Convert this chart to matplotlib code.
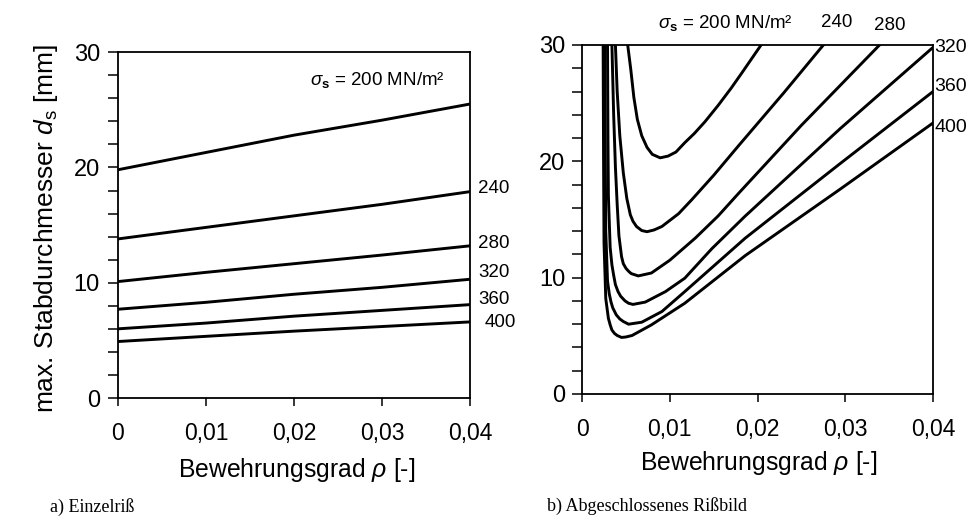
import matplotlib
matplotlib.use("Agg")
import matplotlib.pyplot as plt
from matplotlib.ticker import MultipleLocator

plt.rcParams['font.family'] = ['Liberation Sans', 'DejaVu Sans']
plt.rcParams['mathtext.fontset'] = 'custom'
plt.rcParams['mathtext.rm'] = 'Liberation Sans'
plt.rcParams['mathtext.it'] = 'Liberation Sans:italic'
plt.rcParams['mathtext.bf'] = 'Liberation Sans:bold'

### data
stress_labels = ["240", "280", "320", "360", "400"]
x_ticks = [0, 0.01, 0.02, 0.03, 0.04]
x_ticklabels = ["0", "0,01", "0,02", "0,03", "0,04"]
y_ticks = [0, 10, 20, 30]

# a) Einzelriss
rho_a = [0, 0.01, 0.02, 0.03, 0.04]
ds_a_200 = [19.8, 21.3, 22.8, 24.1, 25.5]
ds_a_240 = [13.8, 14.8, 15.8, 16.8, 17.9]
ds_a_280 = [10.1, 10.9, 11.65, 12.4, 13.2]
ds_a_320 = [7.7, 8.3, 9.0, 9.6, 10.3]
ds_a_360 = [6.0, 6.5, 7.1, 7.6, 8.1]
ds_a_400 = [4.9, 5.35, 5.8, 6.2, 6.6]

# b) abgeschlossenes Rissbild
rho_b_200 = [0.0052, 0.00555, 0.0059, 0.0063, 0.0068, 0.0074, 0.0080, 0.0089, 0.0098,
             0.0107, 0.0117, 0.0128, 0.0140, 0.0155, 0.0170, 0.0183, 0.0204]
ds_b_200 = [30.0, 27.9, 25.5, 23.6, 22.2, 21.2, 20.6, 20.3, 20.45,
            20.8, 21.6, 22.4, 23.4, 24.8, 26.3, 27.7, 30.0]
rho_b_240 = [0.0038, 0.0040, 0.0043, 0.0047, 0.0051, 0.0055, 0.0058, 0.0062, 0.0068, 0.0074,
             0.0082, 0.0091, 0.0110, 0.0125, 0.0150, 0.0179, 0.0230, 0.0275]
ds_b_240 = [30.0, 26.0, 22.2, 19.0, 16.8, 15.4, 14.85, 14.4, 14.05, 13.95,
            14.1, 14.4, 15.5, 16.7, 18.8, 21.4, 25.9, 30.0]
rho_b_280 = [0.0034, 0.0036, 0.0038, 0.0040, 0.0042, 0.0045, 0.0047, 0.0050, 0.0053, 0.0056,
             0.0064, 0.0079, 0.0100, 0.0129, 0.0155, 0.0179, 0.0250, 0.0339]
ds_b_280 = [30.0, 24.0, 19.5, 16.3, 13.6, 11.8, 11.2, 10.8, 10.55, 10.35,
            10.15, 10.4, 11.5, 13.4, 15.3, 17.3, 23.1, 30.0]
rho_b_320 = [0.0029, 0.00295, 0.0030, 0.0032, 0.0034, 0.0036, 0.0038, 0.0041, 0.0044, 0.0049,
             0.0053, 0.0058, 0.0072, 0.0095, 0.0117, 0.0148, 0.0186, 0.0294, 0.0400]
ds_b_320 = [30.0, 22.0, 17.0, 12.6, 11.1, 10.2, 9.4, 8.8, 8.4, 8.0,
            7.8, 7.7, 7.9, 8.8, 9.95, 12.5, 15.3, 22.8, 29.8]
rho_b_360 = [0.0026, 0.00265, 0.0027, 0.0029, 0.0031, 0.0033, 0.0035, 0.0039, 0.0043, 0.0047,
             0.0053, 0.0068, 0.0091, 0.0117, 0.0186, 0.0294, 0.0400]
ds_b_360 = [30.0, 20.0, 14.0, 9.7, 8.6, 7.9, 7.4, 6.8, 6.45, 6.23,
            6.0, 6.17, 7.09, 8.8, 13.4, 19.8, 26.0]
rho_b_400 = [0.0024, 0.00245, 0.0025, 0.0027, 0.0030, 0.0032, 0.0034, 0.0037, 0.0040, 0.0045,
             0.0050, 0.0057, 0.0079, 0.0117, 0.0186, 0.0294, 0.0400]
ds_b_400 = [30.0, 20.0, 13.0, 8.2, 6.5, 5.95, 5.5, 5.2, 5.03, 4.86,
            4.9, 5.03, 5.94, 7.8, 11.9, 17.6, 23.3]


def style_axes(ax, xpad, ypad):
    ax.set_xlim(0, 0.04)
    ax.set_ylim(0, 30)
    ax.set_xticks(x_ticks)
    ax.set_xticklabels(x_ticklabels)
    ax.set_yticks(y_ticks)
    ax.yaxis.set_minor_locator(MultipleLocator(2))
    ax.tick_params(axis='x', direction='out', length=6, width=1.1, pad=xpad, labelsize=16.5)
    ax.tick_params(axis='y', which='both', direction='out', length=7, width=1.1, pad=ypad, labelsize=17)
    for s in ax.spines.values():
        s.set_linewidth(1.3)
    ax.set_xlabel(r"Bewehrungsgrad $\rho$ [-]", fontsize=17.8)


fig = plt.figure(figsize=(9.75, 5.28), dpi=100)

### left panel
ax1 = fig.add_axes([0.121, 0.2462, 0.361, 0.655])
for ds in [ds_a_200, ds_a_240, ds_a_280, ds_a_320, ds_a_360, ds_a_400]:
    ax1.plot(rho_a, ds, color='black', lw=2.1, solid_capstyle='butt')
style_axes(ax1, 11, 6)
ax1.xaxis.set_label_coords(0.509, -0.168)
ax1.set_ylabel(r"max. Stabdurchmesser $d_\mathregular{s}$ [mm]", fontsize=19)
ax1.yaxis.set_label_coords(-0.165, 0.49)
ax1.text(0.736, 0.919, r"$\sigma_\mathbf{s}$ = 200 MN/m²", transform=ax1.transAxes,
         ha='center', va='center', fontsize=13.5)
label_y_a = [0.607, 0.448, 0.364, 0.286, 0.217]
label_x_a = [1.023, 1.023, 1.023, 1.023, 1.043]
for lab, lx, ly in zip(stress_labels, label_x_a, label_y_a):
    ax1.text(lx, ly, lab, transform=ax1.transAxes, ha='left', va='center', fontsize=13.5)

### right panel
ax2 = fig.add_axes([0.597, 0.2538, 0.360, 0.661])
for r, ds in [(rho_b_200, ds_b_200), (rho_b_240, ds_b_240), (rho_b_280, ds_b_280),
              (rho_b_320, ds_b_320), (rho_b_360, ds_b_360), (rho_b_400, ds_b_400)]:
    ax2.plot(r, ds, color='black', lw=2.1, solid_joinstyle='round')
style_axes(ax2, 11, 5)
ax2.xaxis.set_label_coords(0.504, -0.158)
ax2.text(0.407, 1.063, r"$\sigma_\mathbf{s}$ = 200 MN/m²", transform=ax2.transAxes,
         ha='center', va='center', fontsize=13.5)
ax2.text(0.724, 1.063, "240", transform=ax2.transAxes, ha='center', va='center', fontsize=13.5)
ax2.text(0.877, 1.057, "280", transform=ax2.transAxes, ha='center', va='center', fontsize=13.5)
for lab, ly in zip(["320", "360", "400"], [0.994, 0.880, 0.765]):
    ax2.text(1.051, ly, lab, transform=ax2.transAxes, ha='center', va='center', fontsize=14)

### captions
fig.text(0.0513, 0.040, "a) Einzelriß", family='Liberation Serif', fontsize=13, va='center')
fig.text(0.561, 0.042, "b) Abgeschlossenes Rißbild", family='Liberation Serif', fontsize=13, va='center')

fig.savefig("out.png", dpi=100)
